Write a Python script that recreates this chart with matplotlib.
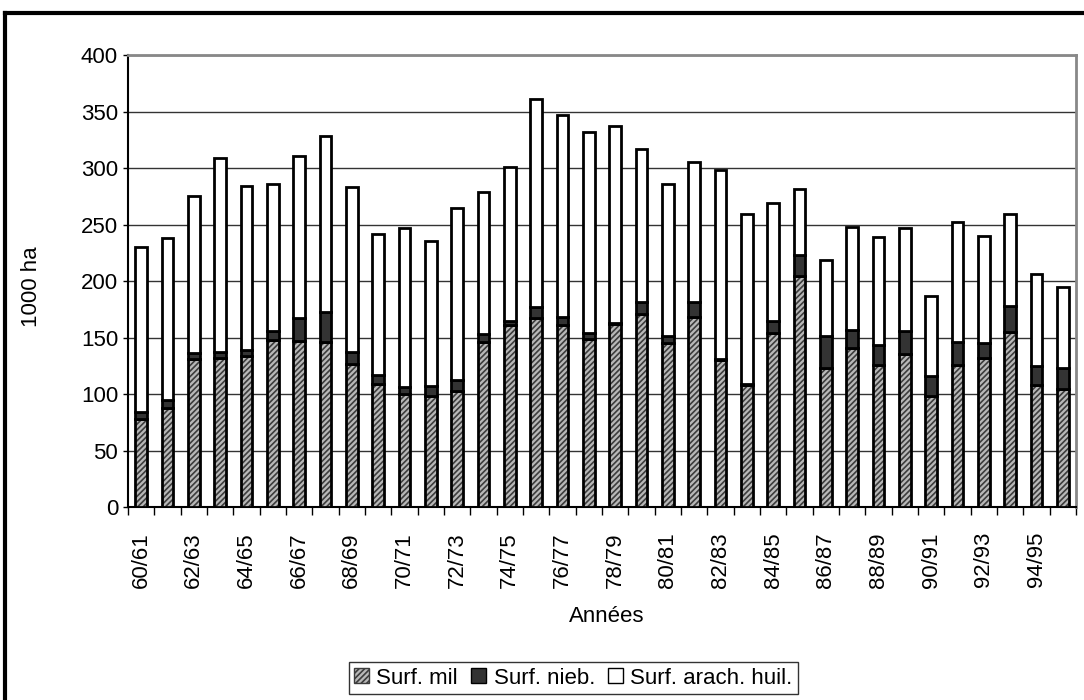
import matplotlib
matplotlib.use("Agg")
import matplotlib.pyplot as plt
import numpy as np
from matplotlib.lines import Line2D
from matplotlib.patches import Patch

plt.rcParams["font.family"] = ["Liberation Sans", "DejaVu Sans"]
plt.rcParams["hatch.linewidth"] = 1.2

# Campaign years, 1960/61 to 1995/96
years = [f"{y % 100:02d}/{(y + 1) % 100:02d}" for y in range(1960, 1996)]

# Areas in 1000 ha
surf_mil = [78, 88, 131, 132, 134, 148, 147, 146, 127, 109, 100, 98,
            103, 146, 161, 167, 161, 149, 162, 171, 145, 168, 130, 108,
            154, 204, 123, 141, 126, 135, 98, 126, 132, 155, 108, 104]
surf_nieb = [6, 7, 5, 5, 5, 8, 20, 27, 10, 8, 6, 9,
             9, 7, 4, 10, 7, 5, 1, 10, 6, 13, 1, 1,
             11, 19, 28, 16, 17, 21, 18, 20, 13, 23, 17, 19]
surf_total = [230, 238, 275, 309, 284, 286, 311, 328, 283, 242, 247, 235,
              265, 279, 301, 361, 347, 332, 337, 317, 286, 305, 298, 259,
              269, 281, 219, 248, 239, 247, 187, 252, 240, 259, 206, 195]

mil = np.array(surf_mil)
nieb = np.array(surf_nieb)
arach = np.array(surf_total) - mil - nieb

FS = 16
MIL_FACE = "#b8b8b8"
MIL_HATCH = "#3c3c3c"

fig = plt.figure(figsize=(10.84, 7.0), dpi=100)
ax = fig.add_axes([0.1181, 0.2757, 0.8745, 0.6457])

x = np.arange(len(years))
w = 0.44

# hatched millet segment, then black outlines on top
ax.bar(x, mil, w, color=MIL_FACE, edgecolor=MIL_HATCH, hatch="//////",
       linewidth=0, zorder=3)
ax.bar(x, mil, w, facecolor="none", edgecolor="black", linewidth=2, zorder=4)
ax.bar(x, nieb, w, bottom=mil, color="#333333", edgecolor="black",
       linewidth=2, zorder=4)
ax.bar(x, arach, w, bottom=mil + nieb, color="white", edgecolor="black",
       linewidth=2, zorder=4)

ax.set_xlim(-0.5, len(years) - 0.5)
ax.set_ylim(0, 400)
ax.set_yticks(range(0, 401, 50))
ax.yaxis.grid(True, color="#333333", linewidth=1)
ax.set_axisbelow(True)

# category ticks between bars, labels on every other year
ax.set_xticks(np.arange(len(years) + 1) - 0.5)
ax.set_xticklabels([])
ax.set_xticks(x[::2], minor=True)
ax.set_xticklabels(years[::2], minor=True, rotation=90, fontsize=FS)
ax.tick_params(axis="x", which="minor", length=0, pad=18)
ax.tick_params(axis="x", which="major", length=5.8, width=1, direction="out")
ax.tick_params(axis="y", length=3.6, width=1, direction="out", labelsize=FS,
               pad=3.6)

for side in ("top", "right"):
    ax.spines[side].set_color("#888888")
    ax.spines[side].set_linewidth(2)
for side in ("left", "bottom"):
    ax.spines[side].set_color("black")
    ax.spines[side].set_linewidth(1.5)

fig.text(0.0286, 0.59, "1000 ha", rotation=90, ha="center", va="center",
         fontsize=FS)
fig.text(0.56, 0.1186, "Années", ha="center", va="center", fontsize=FS)

handles = [
    Patch(facecolor=MIL_FACE, edgecolor=MIL_HATCH, hatch="//////",
          label="Surf. mil"),
    Patch(facecolor="#333333", edgecolor="black", label="Surf. nieb."),
    Patch(facecolor="white", edgecolor="black", label="Surf. arach. huil."),
]
leg = fig.legend(handles=handles, loc="center", bbox_to_anchor=(0.529, 0.0314),
                 ncol=3, fontsize=FS, frameon=True, fancybox=False,
                 handlelength=0.68, handleheight=0.68, handletextpad=0.32,
                 columnspacing=0.6, borderpad=0.25, borderaxespad=0)
leg.get_frame().set_edgecolor("black")
leg.get_frame().set_linewidth(1)

# outer chart border
fig.add_artist(Line2D([0.005, 0.005], [0, 0.981], color="black",
                      linewidth=3, transform=fig.transFigure))
fig.add_artist(Line2D([0.005, 1], [0.981, 0.981], color="black",
                      linewidth=3, transform=fig.transFigure))

fig.savefig("out.png", dpi=100)
